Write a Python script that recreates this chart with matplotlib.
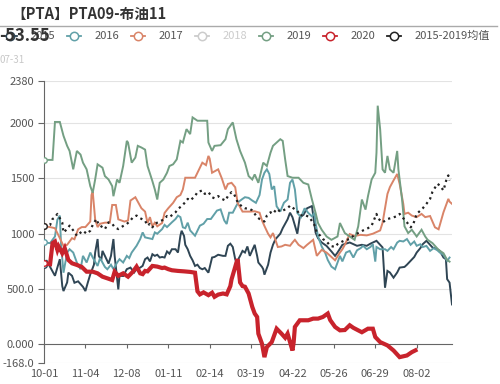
import matplotlib
matplotlib.use("Agg")
import matplotlib.pyplot as plt
from matplotlib.lines import Line2D
import pandas as pd

plt.rcParams['font.family'] = ['Noto Sans CJK SC', 'DejaVu Sans']

# 横轴: 10-01 到 08-31 的每日日期 (含 02-29)
dates = pd.date_range("2019-10-01", "2020-08-31", freq="D")
day_labels = list(dates.strftime("%m-%d"))

title = "【PTA】PTA09-布油11"
last_value = "-53.55"
last_date = "07-31"

y2015_days = [0, 2, 5, 9, 13, 15, 16, 19, 20, 23, 25, 28, 32, 34, 36, 38, 41, 42, 44, 45, 47, 48, 50, 53,
              55, 57, 58, 61, 62, 65, 68, 71, 74, 76, 79, 81, 83, 85, 87, 89, 91, 93, 95, 97, 99, 101,
              103, 105, 108, 110, 112, 113, 115, 116, 118, 120, 122, 124, 126, 128, 130, 132, 135, 138,
              140, 143, 147, 149, 151, 153, 155, 157, 158, 161, 163, 165, 167, 169, 171, 173, 175, 176,
              179, 180, 181, 184, 186, 188, 190, 194, 196, 200, 202, 204, 208, 210, 213, 216, 220, 223,
              225, 228, 232, 236, 239, 241, 245, 251, 257, 261, 265, 268, 273, 278, 280, 282, 284, 287,
              290, 292, 296, 298, 301, 304, 306, 309, 311, 314, 317, 319, 323, 325, 328, 330, 331, 333, 335]
y2015_vals = [720, 760, 700, 620, 770, 527, 482, 560, 648, 620, 557, 570, 520, 482, 560, 633, 720, 830, 952,
              800, 760, 845, 800, 730, 800, 952, 800, 497, 620, 618, 680, 694, 650, 680, 694, 710, 770, 785,
              750, 815, 800, 810, 785, 790, 785, 840, 820, 860, 860, 830, 982, 1027, 980, 900, 860, 800, 760,
              709, 720, 690, 679, 690, 648, 785, 790, 810, 800, 800, 891, 910, 880, 770, 739, 800, 845, 830,
              885, 800, 850, 900, 800, 740, 700, 680, 630, 720, 830, 900, 950, 1000, 1050, 1130, 1190, 1150,
              1000, 1150, 1170, 1230, 1250, 1010, 960, 921, 890, 840, 800, 830, 900, 921, 891, 900, 891, 910,
              936, 876, 512, 664, 650, 603, 650, 694, 700, 720, 755, 790, 830, 870, 906, 936, 900, 876, 860,
              845, 785, 770, 590, 558, 361]

y2016_days = [0, 5, 9, 11, 13, 14, 16, 19, 21, 24, 27, 30, 32, 35, 38, 40, 44, 46, 50, 52, 55, 57, 60, 62,
              65, 68, 70, 72, 76, 79, 81, 83, 86, 89, 91, 93, 97, 99, 101, 105, 108, 110, 112, 114, 116,
              118, 120, 124, 128, 131, 134, 137, 139, 142, 145, 148, 150, 152, 155, 158, 160, 163, 165,
              168, 171, 174, 177, 179, 181, 183, 185, 187, 189, 191, 194, 197, 200, 202, 204, 206, 208,
              211, 214, 217, 220, 222, 223, 225, 228, 231, 233, 236, 239, 241, 243, 245, 248, 251, 254,
              257, 260, 262, 265, 268, 270, 272, 273, 276, 280, 282, 285, 287, 290, 292, 295, 298, 301,
              304, 306, 309, 311, 314, 317, 320, 323, 325, 328, 331, 333]
y2016_vals = [921, 915, 975, 1127, 1164, 900, 648, 830, 860, 830, 739, 679, 800, 740, 830, 785, 709, 780,
              700, 679, 720, 680, 739, 770, 740, 800, 780, 830, 891, 952, 1012, 967, 960, 952, 1012, 1000,
              1042, 1080, 1060, 1103, 1133, 1164, 1150, 1058, 1050, 1100, 1030, 982, 1073, 1090, 1133, 1133,
              1164, 1209, 1220, 1120, 1088, 1190, 1190, 1254, 1290, 1315, 1330, 1324, 1300, 1279, 1350, 1490,
              1551, 1582, 1540, 1400, 1430, 1248, 1200, 1280, 1309, 1460, 1490, 1400, 1188, 1150, 1230, 1188,
              1157, 1190, 1097, 975, 885, 824, 763, 703, 679, 740, 800, 750, 830, 845, 785, 850, 870, 891,
              860, 880, 906, 748, 880, 860, 860, 845, 880, 860, 920, 936, 930, 952, 900, 930, 891, 905, 880,
              890, 845, 870, 850, 830, 810, 755, 785]

y2017_days = [0, 5, 9, 13, 16, 19, 23, 25, 28, 31, 34, 38, 39, 40, 42, 44, 46, 50, 54, 56, 59, 61, 66, 69,
              71, 75, 77, 80, 83, 85, 87, 89, 91, 93, 97, 99, 102, 106, 109, 112, 114, 116, 124, 126, 130,
              133, 135, 136, 138, 143, 146, 149, 151, 154, 157, 159, 163, 167, 169, 173, 177, 179, 181,
              184, 186, 188, 190, 192, 195, 198, 202, 204, 206, 209, 213, 216, 221, 224, 228, 232, 236,
              239, 243, 245, 247, 251, 255, 260, 265, 270, 276, 278, 282, 284, 287, 290, 292, 295, 296,
              299, 302, 306, 310, 313, 317, 321, 324, 328, 332, 333, 335]
y2017_vals = [1067, 1060, 1050, 960, 890, 900, 960, 950, 1040, 1060, 1060, 1110, 1350, 1380, 1130, 1060,
              1090, 1100, 1100, 1260, 1260, 1130, 1110, 1120, 1300, 1330, 1290, 1230, 1200, 1097, 1150, 1067,
              1100, 1067, 1097, 1188, 1230, 1279, 1330, 1350, 1400, 1506, 1506, 1551, 1642, 1620, 1703, 1680,
              1551, 1582, 1500, 1400, 1450, 1460, 1420, 1279, 1200, 1200, 1200, 1203, 1190, 1120, 1070, 1000,
              967, 1006, 945, 880, 885, 900, 891, 920, 945, 900, 870, 900, 945, 800, 854, 830, 790, 760, 830,
              860, 900, 997, 980, 990, 985, 1000, 1030, 1100, 1360, 1421, 1482, 1540, 1451, 1270, 1179, 1190,
              1164, 1150, 1179, 1150, 1160, 1058, 1040, 1194, 1315, 1290, 1270]

y2019_days = [0, 7, 9, 13, 16, 19, 21, 24, 27, 30, 32, 35, 38, 40, 42, 44, 48, 50, 53, 56, 57, 60, 62, 65,
              68, 69, 72, 75, 77, 80, 83, 85, 89, 91, 93, 95, 98, 101, 103, 106, 109, 112, 114, 117, 120,
              122, 126, 134, 135, 138, 140, 145, 149, 151, 155, 158, 161, 165, 168, 171, 173, 176, 180,
              183, 186, 188, 191, 194, 196, 198, 200, 204, 209, 213, 217, 220, 223, 225, 228, 232, 236,
              241, 243, 247, 251, 255, 258, 261, 264, 266, 269, 272, 273, 274, 276, 278, 280, 282, 284,
              287, 290, 291, 294, 296, 299, 302, 306, 310, 313, 315, 319, 324, 328, 331, 333]
y2019_vals = [1667, 1667, 2010, 2010, 1885, 1794, 1748, 1582, 1748, 1715, 1642, 1582, 1430, 1370, 1490,
              1627, 1597, 1521, 1490, 1430, 1339, 1490, 1460, 1612, 1839, 1824, 1642, 1688, 1794, 1779, 1760,
              1612, 1475, 1400, 1309, 1460, 1490, 1551, 1612, 1627, 1672, 1839, 1824, 1945, 1900, 2051, 2021,
              2021, 1824, 1748, 1794, 1800, 1854, 1945, 2006, 1854, 1748, 1642, 1521, 1490, 1536, 1460, 1642,
              1612, 1733, 1794, 1824, 1854, 1839, 1672, 1521, 1506, 1506, 1460, 1445, 1309, 1188, 1097, 1036,
              975, 945, 975, 1097, 1006, 975, 945, 1067, 1309, 1218, 1339, 1490, 1551, 1733, 2157, 1945, 1581,
              1551, 1703, 1581, 1551, 1748, 1581, 1309, 1067, 1006, 1036, 975, 1036, 975, 945, 915, 854, 824,
              763, 748]

y2020_days = [0, 5, 7, 9, 11, 12, 15, 17, 20, 23, 27, 31, 35, 40, 44, 48, 52, 56, 58, 61, 65, 69, 73, 76,
              79, 81, 83, 85, 89, 93, 97, 99, 102, 105, 110, 115, 120, 124, 126, 128, 131, 135, 138, 140,
              143, 147, 150, 153, 154, 157, 158, 159, 161, 163, 165, 168, 171, 173, 175, 176, 179, 181,
              183, 187, 191, 195, 198, 200, 204, 205, 206, 210, 217, 221, 225, 229, 233, 235, 239, 243,
              247, 251, 254, 258, 261, 266, 270, 272, 276, 282, 287, 292, 298, 302, 305]
y2020_vals = [733, 725, 915, 930, 854, 885, 824, 870, 763, 733, 718, 700, 657, 657, 642, 612, 597, 582, 657,
              620, 642, 612, 657, 703, 642, 635, 664, 660, 709, 703, 690, 694, 680, 670, 664, 660, 655, 648,
              480, 452, 470, 445, 467, 430, 450, 460, 452, 527, 588, 700, 739, 770, 560, 527, 521, 460, 339,
              279, 248, 97, 6, -115, -24, 21, 142, 97, 60, 97, -55, 20, 158, 218, 218, 233, 233, 248, 279,
              220, 158, 127, 130, 173, 150, 127, 110, 142, 142, 67, 21, -9, -55, -115, -100, -70, -53.55]

avg_days = [0, 5, 7, 9, 11, 13, 15, 16, 19, 21, 24, 27, 30, 32, 35, 38, 40, 43, 45, 48, 50, 53, 56, 58, 61,
            65, 68, 71, 73, 76, 79, 83, 85, 87, 89, 91, 95, 99, 101, 103, 108, 110, 113, 116, 118, 120, 124,
            126, 130, 132, 135, 138, 140, 143, 146, 149, 151, 154, 156, 159, 163, 165, 169, 171, 175, 177,
            181, 183, 186, 188, 191, 194, 196, 200, 202, 206, 208, 210, 214, 216, 218, 222, 224, 227, 229,
            232, 235, 239, 241, 245, 247, 251, 255, 259, 262, 266, 269, 273, 274, 278, 282, 287, 290, 292,
            295, 298, 301, 303, 306, 309, 311, 314, 317, 319, 323, 325, 328, 331, 332, 333]
avg_vals = [1067, 1080, 1133, 1148, 1179, 1140, 1100, 1012, 1042, 1073, 1030, 982, 1010, 1027, 1000, 1027,
            1080, 1133, 1080, 1060, 1042, 1103, 1090, 1060, 1042, 1070, 1088, 1120, 1148, 1164, 1140, 1118,
            1073, 1090, 1058, 1090, 1110, 1133, 1160, 1150, 1194, 1224, 1250, 1285, 1315, 1300, 1340, 1376,
            1391, 1360, 1376, 1330, 1320, 1340, 1315, 1300, 1340, 1376, 1360, 1285, 1240, 1230, 1224, 1210,
            1150, 1133, 1110, 1164, 1194, 1180, 1224, 1200, 1209, 1230, 1254, 1220, 1210, 1164, 1170, 1160,
            1148, 1080, 1012, 980, 952, 930, 891, 880, 906, 930, 940, 952, 990, 1012, 1030, 1050, 1073, 1179,
            1140, 1103, 1133, 1148, 1160, 1179, 1140, 1103, 1058, 1080, 1179, 1209, 1230, 1270, 1315, 1380,
            1451, 1436, 1391, 1512, 1527, 1482]

y_ticks = [-168, 0, 500, 1000, 1500, 2000, 2380]
y_tick_labels = ["-168.0", "0.000", "500.0", "1000", "1500", "2000", "2380"]

legend_names = ["2015", "2016", "2017", "2018", "2019", "2020", "2015-2019均值"]
legend_colors = ["#2f4554", "#61a0a8", "#d98468", "#cccccc", "#749f83", "#c8232c", "#222222"]

fig = plt.figure(figsize=(5, 3.84), dpi=100)
ax = fig.add_axes([44 / 500, 1 - 363 / 384, 408 / 500, 282 / 384])

# 折线, 顺序同图例 (2018 已关闭)
series = [
    (y2015_days, y2015_vals, legend_colors[0], 1.4, 3, "-"),
    (y2016_days, y2016_vals, legend_colors[1], 1.4, 3, "-"),
    (y2017_days, y2017_vals, legend_colors[2], 1.4, 3, "-"),
    (y2019_days, y2019_vals, legend_colors[4], 1.4, 3, "-"),
    (y2020_days, y2020_vals, legend_colors[5], 3.0, 4, "-"),
    (avg_days, avg_vals, legend_colors[6], 1.6, 5, ":"),
]
for days, vals, color, lw, z, ls in series:
    ax.plot(days, vals, color=color, lw=lw, ls=ls, zorder=z, solid_joinstyle="miter",
            marker="o", markevery=[0], ms=4, mfc="white", mec=color, mew=1)

ax.set_xlim(0, len(dates) - 1)
ax.set_ylim(-168, 2380)
ax.set_yticks(y_ticks)
ax.set_yticklabels(y_tick_labels)
tick_pos = list(range(0, len(dates), 34))
ax.set_xticks(tick_pos)
ax.set_xticklabels([day_labels[i] for i in tick_pos])

for v in [-168, 500, 1000, 1500, 2000, 2380]:
    ax.axhline(v, color="#e3e3e3", lw=0.8, zorder=0)

for s in ["top", "right"]:
    ax.spines[s].set_visible(False)
ax.spines["bottom"].set_position(("data", 0))
ax.spines["bottom"].set_color("#666666")
ax.spines["left"].set_color("#666666")
ax.tick_params(axis="y", colors="#666666", labelcolor="#555555", labelsize=8, length=4, pad=3)
ax.tick_params(axis="x", colors="#666666", labelcolor="#555555", labelsize=8, length=3, pad=15)

# 标题, 分隔线, 图例
ov = fig.add_axes([0, 0, 1, 1], zorder=-1)
ov.set_xlim(0, 500)
ov.set_ylim(384, 0)
ov.axis("off")
ov.text(11, 14, title, fontsize=10.5, fontweight="bold", color="#333333", va="center", ha="left")
ov.plot([0, 497], [26, 26], color="#aaaaaa", lw=1)

for i, (name, color) in enumerate(zip(legend_names, legend_colors)):
    cx = 10 + 64 * i
    ov.add_line(Line2D([cx - 7, cx + 7], [36, 36], color=color, lw=1.3))
    ov.plot([cx], [36], marker="o", ms=6, mfc="white", mec=color, mew=1.1)
    tcolor = "#cccccc" if name == "2018" else "#555555"
    ov.text(cx + 21, 36, name, fontsize=8, color=tcolor, va="center", ha="left")

fig.text(-1 / 500, 1 - 36 / 384, last_value, fontsize=12, fontweight="bold", color="#333333",
         va="center", ha="left")
fig.text(0, 1 - 60 / 384, last_date, fontsize=7, color="#c8c8c8", va="center", ha="left")

fig.savefig("out.png", dpi=100)
